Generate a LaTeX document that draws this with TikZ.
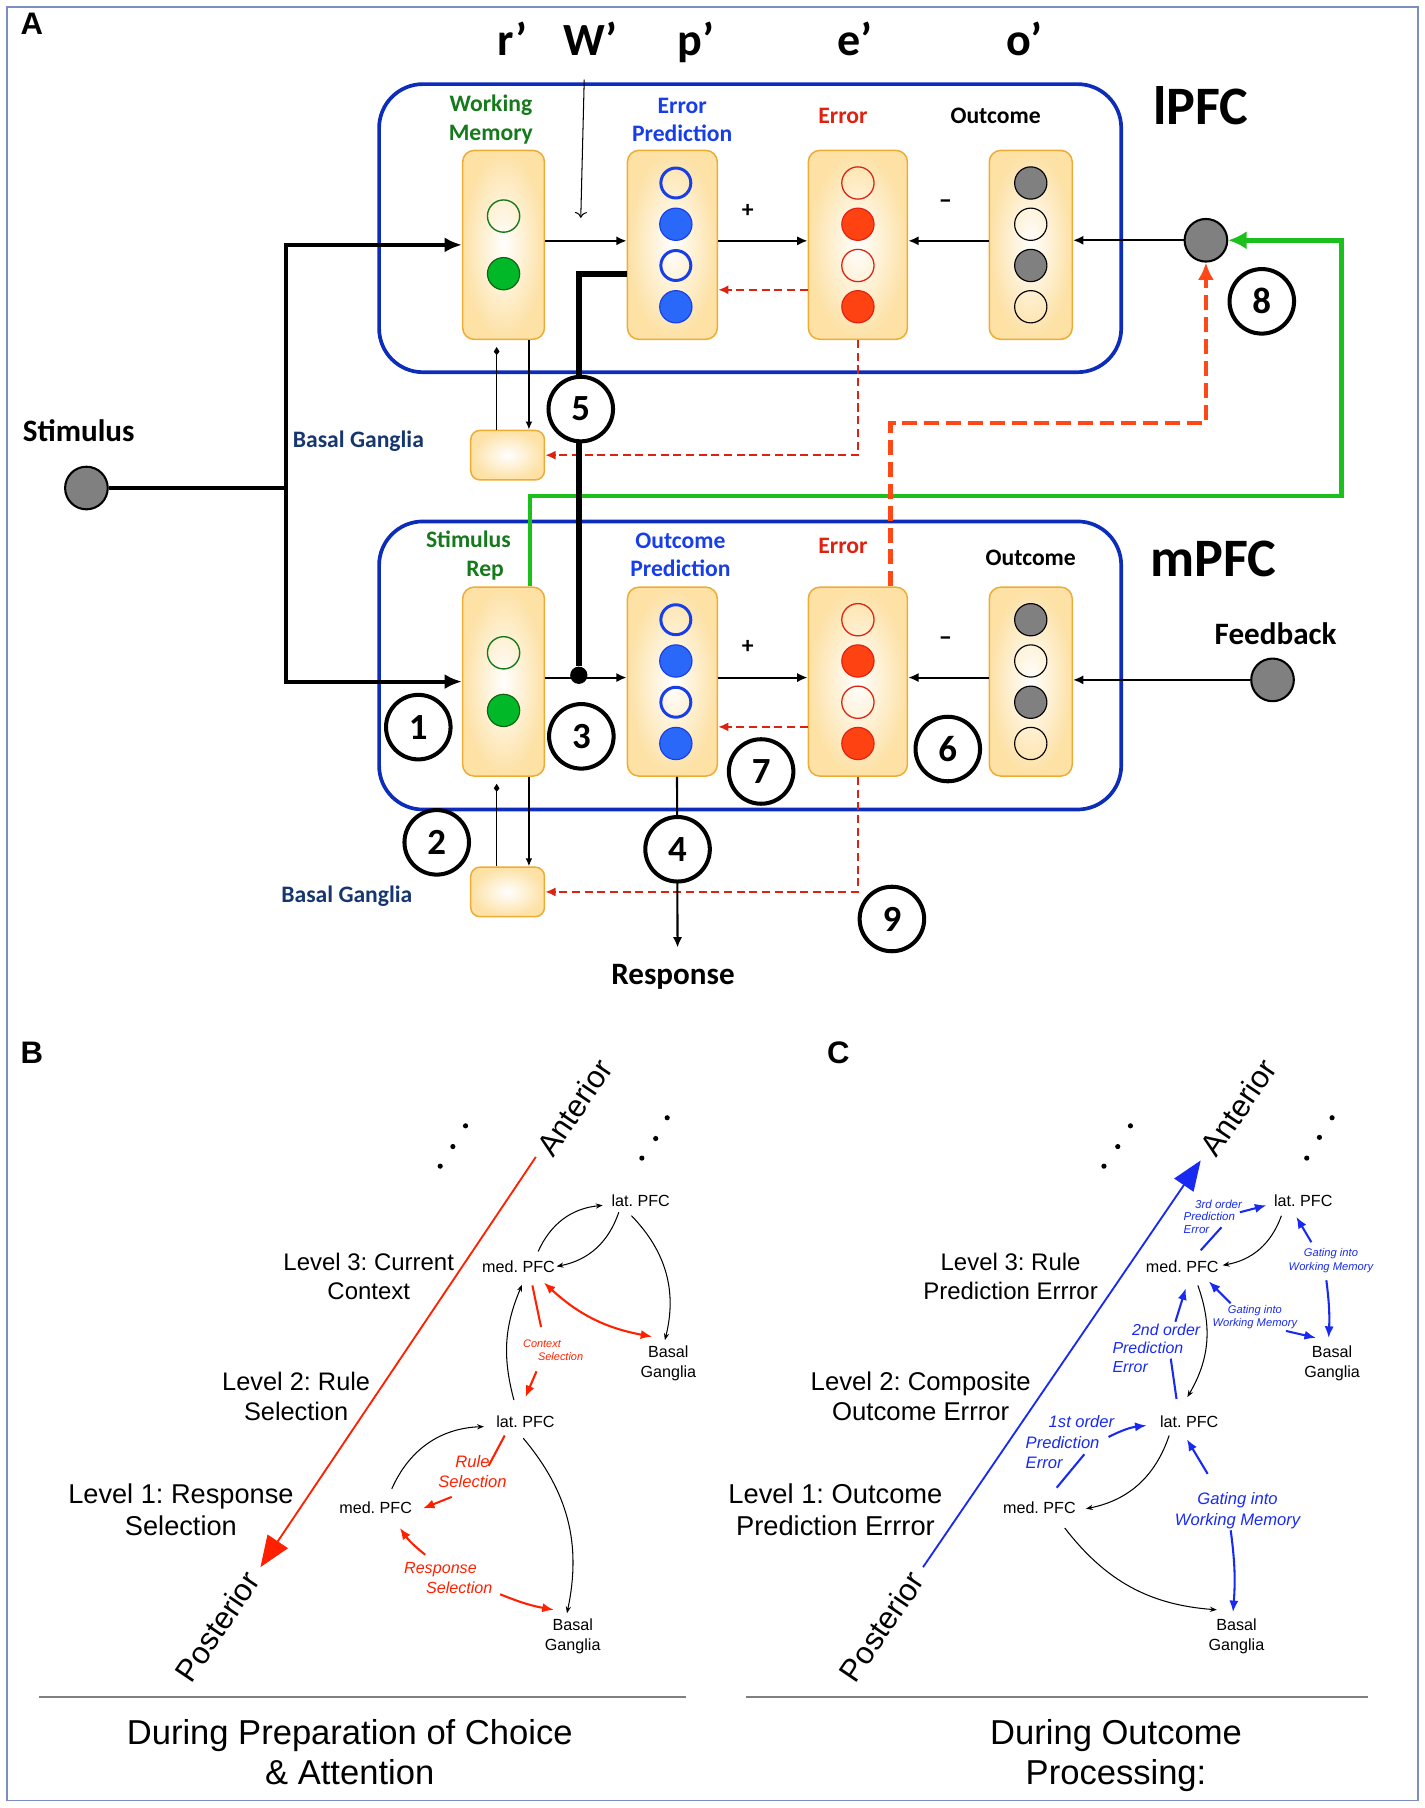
\documentclass[tikz,border=0pt]{standalone}
\usepackage{fontspec}
\setmainfont{Liberation Sans}
\newfontfamily\calfont{Carlito}
\usepackage{tikz}
\usetikzlibrary{calc}
\usetikzlibrary{arrows.meta}
\frenchspacing

\definecolor{regionblue}{RGB}{12,44,186}
\definecolor{unitline}{RGB}{238,172,52}
\definecolor{unitfill}{RGB}{253,225,165}
\definecolor{wmgreen}{RGB}{22,122,28}
\definecolor{predblue}{RGB}{24,62,232}
\definecolor{errred}{RGB}{222,34,18}
\definecolor{bgblue}{RGB}{22,54,112}
\definecolor{cellgreen}{RGB}{0,184,40}
\definecolor{cellblue}{RGB}{42,104,250}
\definecolor{cellred}{RGB}{255,66,18}
\definecolor{cellgrey}{RGB}{128,128,128}
\definecolor{gatewire}{RGB}{28,192,28}
\definecolor{errwire}{RGB}{255,72,22}
\definecolor{antred}{RGB}{255,32,0}
\definecolor{antblue}{RGB}{24,42,242}
\definecolor{framegrey}{RGB}{122,142,192}
\definecolor{rulegrey}{RGB}{128,128,128}

\tikzset{
	region/.style={draw=regionblue, line width=3.2pt, rounded corners=38pt, minimum width=644pt, minimum height=250pt, inner sep=0pt},
	unit/.style={draw=unitline, line width=1.3pt, rounded corners=10pt, shade, shading=radial, inner color=white, outer color=unitfill, minimum height=164pt, inner sep=0pt},
	bgunit/.style={unit, minimum width=64pt, minimum height=43pt, rounded corners=8pt},
	cell/.style={circle, inner sep=0pt, minimum size=28pt, line width=1pt},
	gopen/.style={cell, draw=wmgreen, line width=1.2pt},
	gfull/.style={cell, draw=wmgreen!80!black, fill=cellgreen},
	bopen/.style={cell, draw=predblue, line width=2.6pt, minimum size=26pt},
	bfull/.style={cell, draw=predblue, fill=cellblue},
	ropen/.style={cell, draw=errred, line width=1.1pt},
	rfull/.style={cell, draw=errred, fill=cellred},
	kopen/.style={cell, draw=black},
	kfull/.style={cell, draw=black, fill=cellgrey},
	source/.style={circle, draw, line width=1.8pt, fill=cellgrey, minimum size=37pt, inner sep=0pt},
	stepnum/.style={circle, draw, line width=3.5pt, fill=white, minimum size=56pt, inner sep=0pt, font=\calfont\bfseries\fontsize{32}{32}\selectfont},
	tag/.style={font=\calfont\bfseries\fontsize{20.5}{25}\selectfont, align=center, inner sep=0pt},
	sign/.style={font=\calfont\bfseries\fontsize{23}{23}\selectfont, inner sep=0pt},
	bigtag/.style={font=\calfont\bfseries\fontsize{27}{27}\selectfont, inner sep=0pt},
	prime/.style={font=\calfont\bfseries\fontsize{40}{40}\selectfont, anchor=base, inner sep=0pt},
	area/.style={font=\calfont\bfseries\fontsize{47}{47}\selectfont, inner sep=0pt},
	panel/.style={font=\bfseries\fontsize{27}{27}\selectfont, inner sep=0pt},
	feed/.style={line width=3.5pt, -{Latex[length=15pt,width=13pt]}},
	link/.style={line width=1.8pt, -{Latex[length=9pt,width=8pt]}},
	bglink/.style={line width=1.4pt, -{Latex[length=7pt,width=6pt]}},
	bgback/.style={line width=1.4pt, -{Kite[length=7pt,width=5pt,inset=3pt]}, shorten >=6pt},
	errlink/.style={draw=errred, line width=2pt, dash pattern=on 7pt off 4pt, -{Latex[length=9pt,width=8pt]}},
	errdash/.style={draw=errwire, line width=4pt, dash pattern=on 13pt off 6pt, -{Latex[length=15pt,width=14pt]}},
	gate/.style={draw=gatewire, line width=4pt, -{Latex[length=16pt,width=16pt]}},
	pfc/.style={font=\fontsize{14}{17.5}\selectfont, align=center, inner sep=1pt},
	axisname/.style={font=\fontsize{27}{27}\selectfont, rotate=56, inner sep=0pt},
	wire/.style={line width=0.9pt, -{Stealth[length=6pt,width=4.5pt]}},
	redwire/.style={draw=antred, line width=1.8pt, -{Latex[length=10pt,width=8pt]}},
	bluewire/.style={draw=antblue, line width=1.8pt, -{Latex[length=10pt,width=8pt]}},
	redtext/.style={text=antred, font=\itshape\fontsize{14.4}{17.5}\selectfont, align=center, inner sep=0pt},
	bluetext/.style={text=antblue, font=\itshape\fontsize{14.4}{17.5}\selectfont, align=center, inner sep=0pt},
	dotmark/.style={circle, fill, inner sep=0pt, minimum size=4.5pt},
	title/.style={font=\fontsize{30}{35.5}\selectfont, align=center, inner sep=0pt},
}

\begin{document}
\begin{tikzpicture}[x=1pt, y=-1pt]
	\useasboundingbox (0,0) rectangle (1236,1569);
	\draw[framegrey, line width=1.5pt] (6,6) rectangle (1230.5,1562.5);
	\coordinate (yu) at (0,209);
	\coordinate (yl) at (0,588);

	\node[panel] (pA) at (27.6,21) {A};
	\node[prime] (rp) at (445,48) {r’};
	\node[prime] (wp) at (512,48) {W’};
	\node[prime] (pp) at (604,48) {p’};
	\node[prime] (ep) at (742,48) {e’};
	\node[prime] (op) at (889,48) {o’};

	\node[region] (lpfc) at (651,198) {};
	\node[region] (mpfc) at (651,577.5) {};
	\node[area] (lab) at (1042,91.5) {lPFC};
	\node[area] (mab) at (1053,485) {mPFC};

	\node[unit, minimum width=71pt] (wm) at (437,212.5) {};
	\node[unit, minimum width=78pt] (pu) at (583.5,212.5) {};
	\node[unit, minimum width=86pt] (eu) at (744.5,212.5) {};
	\node[unit, minimum width=72pt] (ou) at (894.5,212.5) {};
	\node[unit, minimum width=71pt] (sr) at (437,591.5) {};
	\node[unit, minimum width=78pt] (pl) at (583.5,591.5) {};
	\node[unit, minimum width=86pt] (el) at (744.5,591.5) {};
	\node[unit, minimum width=72pt] (ol) at (894.5,591.5) {};
	\node[bgunit] (bgu) at (440.5,395) {};
	\node[bgunit] (bgl) at (440.5,774) {};

	\node[gopen] (wm1) at ($(wm)+(0,-25)$) {};
	\node[gfull] (wm2) at ($(wm)+(0,25)$) {};
	\node[gopen] (sr1) at ($(sr)+(0,-25)$) {};
	\node[gfull] (sr2) at ($(sr)+(0,25)$) {};
	\foreach \r in {u,l}{
		\foreach \k/\dy/\ps/\es/\os in {1/-53.7/bopen/ropen/kfull,2/-17.9/bfull/rfull/kopen,3/17.9/bopen/ropen/kfull,4/53.7/bfull/rfull/kopen}{
			\node[\ps] (p\r\k) at ($(p\r)+(3,\dy)$) {};
			\node[\es] (e\r\k) at ($(e\r)+(0,\dy)$) {};
			\node[\os] (o\r\k) at ($(o\r)+(0,\dy)$) {};
		}
	}

	\node[tag, text=wmgreen] (wml) at (426,104) {Working\\Memory};
	\node[tag, text=predblue] (pul) at (592,104) {Error\\Prediction};
	\node[tag, text=errred] (eul) at (731.5,100.5) {Error};
	\node[tag] (oul) at (864,100.5) {Outcome};
	\node[tag, text=wmgreen, align=left] (srl) at (406.5,482) {Stimulus\\\hspace*{35pt}Rep};
	\node[tag, text=predblue] (pll) at (590.5,481.5) {Outcome\\Prediction};
	\node[tag, text=errred] (ell) at (731.5,474) {Error};
	\node[tag] (oll) at (894.5,484) {Outcome};
	\node[tag, text=bgblue] (bgul) at (311,383) {Basal Ganglia};
	\node[tag, text=bgblue] (bgll) at (301,778) {Basal Ganglia};
	\node[tag] (plu) at (649,183) {+};
	\node[sign] (mnu) at (820.5,177) {–};
	\node[tag] (pll2) at (649,561.5) {+};
	\node[sign] (mnl) at (820.5,556) {–};
	\node[bigtag] (stl) at (68.3,374) {Stimulus};
	\node[bigtag] (fbl) at (1107,550) {Feedback};
	\node[bigtag, anchor=base] (resp) at (584,854) {Response};

	\node[source] (stim) at (75,423.5) {};
	\node[source] (fu) at (1046.5,208.5) {};
	\node[source] (fl) at (1104.3,590) {};

	\coordinate (split) at (248.5,423.5);
	\draw[line width=3.5pt] (stim.east) -- (split);
	\draw[feed] (split) |- (wm.west);
	\draw[feed] (split) |- (sr.west);
	\draw[link] (wm.east |- yu) -- (pu.west |- yu);
	\draw[link] (pu.east |- yu) -- (eu.west |- yu);
	\draw[link] (ou.west |- yu) -- (eu.east |- yu);
	\draw[link] (fu.west) -- (fu.west -| ou.east);
	\draw[link] (sr.east |- yl) -- (pl.west |- yl);
	\draw[link] (pl.east |- yl) -- (el.west |- yl);
	\draw[link] (ol.west |- yl) -- (el.east |- yl);
	\draw[link] (fl.west) -- (fl.west -| ol.east);
	\coordinate (wtop) at (507,69);
	\coordinate (wtip) at (504,189);
	\draw[line width=0.9pt, -{To[length=5pt]}] (wtop) -- (wtip);

	\draw[errlink] ([yshift=-39pt]eu.west) -- ([yshift=-39pt]pu.east);
	\draw[errlink] ([yshift=-39.3pt]el.west) -- ([yshift=-39.3pt]pl.east);
	\draw[errlink] (eu.south) |- (bgu.east);
	\draw[errlink] (el.south) |- (bgl.east);
	\draw[bgback] ([xshift=-9.5pt]bgu.north) -- ([xshift=-6pt]wm.south);
	\draw[bglink] ([xshift=22pt]wm.south) -- ([xshift=18.5pt]bgu.north);
	\draw[bgback] ([xshift=-9.5pt]bgl.north) -- ([xshift=-6pt]sr.south);
	\draw[bglink] ([xshift=22pt]sr.south) -- ([xshift=18.5pt]bgl.north);

	\coordinate (gturn) at (1164,430.5);
	\draw[gate] ([xshift=23pt]sr.north) |- (gturn) |- (fu.east);
	\coordinate (rturn) at ($(fu)+(0,158.5)$);
	\draw[errdash] ([xshift=28.5pt]el.north) |- (rturn) -- (fu.south);

	\node[circle, fill, inner sep=0pt, minimum size=15pt] (dot) at (502.3,586) {};
	\draw[line width=5.5pt] ([yshift=-25.3pt]pu.west) -| (dot);
	\draw[link] ([xshift=4pt]pl.south) -- ([xshift=4pt,yshift=14pt]resp.north);

	\node[stepnum] (n1) at (363,631) {1};
	\node[stepnum] (n2) at (379,731) {2};
	\node[stepnum] (n3) at (504.5,639) {3};
	\node[stepnum] (n4) at (588,737) {4};
	\node[stepnum] (n5) at (504,355) {5};
	\node[stepnum] (n6) at (822.5,650) {6};
	\node[stepnum] (n7) at (660.5,669.5) {7};
	\node[stepnum] (n8) at (1095,261.5) {8};
	\node[stepnum] (n9) at (774,797.5) {9};

	\node[panel] (pB) at (27.6,913.5) {B};
	\node[panel] (pC) at (727.5,913.5) {C};

	\coordinate (antB) at (465,1004);
	\coordinate (postB) at (226,1360);
	\draw[antred, line width=1.6pt, -{Triangle[length=27pt,width=21pt]}] (antB) -- (postB);
	\coordinate (postC) at (801,1360);
	\coordinate (antC) at (1042,1007);
	\draw[antblue, line width=1.6pt, -{Triangle[length=26pt,width=20pt]}] (postC) -- (antC);
	\node[axisname] (antBl) at (498.5,961) {Anterior};
	\node[axisname] (postBl) at (188.5,1411.5) {Posterior};
	\node[axisname] (antCl) at (1074.5,961) {Anterior};
	\node[axisname] (postCl) at (765,1411.5) {Posterior};
	\foreach \i/\x/\y in {1/382/1012,2/393/995,3/404/977,4/557/1005,5/569/988,6/579/970,7/958/1012,8/970/995,9/981/977,10/1134/1005,11/1145/987,12/1156/970}
		\node[dotmark] (d\i) at (\x,\y) {};

	\node[font=\fontsize{20.8}{25}\selectfont, align=center] (lv3B) at (320,1107.5) {Level 3: Current\\Context};
	\node[font=\fontsize{22}{26}\selectfont, align=center] (lv2B) at (257,1211.5) {Level 2: Rule\\Selection};
	\node[font=\fontsize{23.6}{28}\selectfont, align=center] (lv1B) at (157,1310) {Level 1: Response\\Selection};
	\node[font=\fontsize{20.8}{25}\selectfont, align=center] (lv3C) at (877,1107.5) {Level 3: Rule\\Prediction Errror};
	\node[font=\fontsize{22.3}{26}\selectfont, align=center] (lv2C) at (799,1211.5) {Level 2: Composite\\Outcome Errror};
	\node[font=\fontsize{23.7}{28}\selectfont, align=center] (lv1C) at (725,1310) {Level 1: Outcome\\Prediction Errror};

	\node[pfc] (latB1) at (556,1042) {lat. PFC};
	\node[pfc] (medB1) at (450,1099) {med. PFC};
	\node[pfc] (bgB1) at (580,1183) {Basal\\Ganglia};
	\node[pfc] (latB2) at (456,1234) {lat. PFC};
	\node[pfc] (medB2) at (326,1308) {med. PFC};
	\node[pfc] (bgB2) at (497,1420) {Basal\\Ganglia};
	\draw[wire] ($(medB1)+(17,-13)$) to[bend left=30] ($(latB1)+(-33,4)$);
	\draw[wire] ($(latB1)+(-19,10)$) to[bend left=30] ($(medB1)+(33,0)$);
	\draw[wire] ($(latB1)+(-8,13)$) to[bend left=29] ($(bgB1)+(-3,-20)$);
	\draw[wire] ($(latB2)+(-10,-19)$) to[bend left=19] ($(medB1)+(3,16)$);
	\draw[wire] ($(medB2)+(14,-16)$) to[bend left=32] ($(latB2)+(-36,4)$);
	\draw[wire] ($(latB2)+(-2,14)$) to[bend left=26] ($(bgB2)+(-5,-20)$);

	\node[redtext, font=\itshape\fontsize{9.5}{11}\selectfont, align=left] (ctxB) at (480,1172) {Context\\\hspace*{13pt}Selection};
	\node[redtext] (ruleB) at (410,1277) {Rule\\Selection};
	\node[redtext, font=\itshape\fontsize{14}{17}\selectfont, align=left] (respB) at (389,1369.5) {Response\\\hspace*{19pt}Selection};
	\draw[redwire, {Latex[length=10pt,width=8pt]}-{Latex[length=10pt,width=8pt]}] ($(medB1)+(22,14)$) to[bend right=16] ($(bgB1)+(-14,-23)$);
	\draw[redwire, -] ($(medB1)+(12,16.5)$) -- ($(ctxB)+(-10.5,-20.5)$);
	\draw[redwire] ($(ctxB)+(-14.4,18)$) -- ($(latB2)+(0,-21.6)$);
	\draw[redwire, -] ($(latB2)+(-18,11.7)$) -- ($(ruleB)+(14,-5)$);
	\draw[redwire] ($(ruleB)+(-18,22)$) -- ($(medB2)+(41,1)$);
	\draw[redwire] ($(respB)+(-20,-20.3)$) to[bend left=8] ($(medB2)+(21,18)$);
	\draw[redwire] ($(respB)+(45,14)$) to[bend right=6] ($(bgB2)+(-16.4,-23)$);

	\node[pfc] (latC1) at (1131,1042) {lat. PFC};
	\node[pfc] (medC1) at (1026,1099) {med. PFC};
	\node[pfc] (bgC1) at (1156,1183) {Basal\\Ganglia};
	\node[pfc] (latC2) at (1032,1234) {lat. PFC};
	\node[pfc] (medC2) at (902,1308) {med. PFC};
	\node[pfc] (bgC2) at (1073,1420) {Basal\\Ganglia};
	\draw[wire] ($(latC1)+(-19,13)$) to[bend left=30] ($(medC1)+(35,-1)$);
	\draw[wire] ($(medC1)+(13.5,16.5)$) to[bend left=25] ($(latC2)+(-1.6,-21.6)$);
	\draw[wire] ($(latC2)+(-17.4,11.7)$) to[bend left=30] ($(medC2)+(40.4,1.3)$);
	\draw[wire] ($(medC2)+(22,18)$) to[bend right=24] ($(bgC2)+(-17,-23)$);

	\node[bluetext, font=\itshape\fontsize{10}{11}\selectfont, align=left] (o3) at (1052.5,1056) {\hspace*{10pt}3rd order\\Prediction\\Error};
	\node[bluetext, font=\itshape\fontsize{9.7}{12}\selectfont] (g1) at (1155,1094) {Gating into\\Working Memory};
	\node[bluetext, font=\itshape\fontsize{9.7}{11.5}\selectfont] (g2) at (1089,1143) {Gating into\\Working Memory};
	\node[bluetext, font=\itshape\fontsize{13.8}{16}\selectfont, align=left] (o2) at (1003.5,1170) {\hspace*{17pt}2nd order\\Prediction\\Error};
	\node[bluetext, align=left] (o1) at (928.5,1251.5) {\hspace*{20pt}1st order\\Prediction\\Error};
	\node[bluetext, font=\itshape\fontsize{14.4}{17.6}\selectfont] (g3) at (1074,1311) {Gating into\\Working Memory};
	\draw[bluewire, -] ($(medC1)+(16,-14)$) -- ($(o3)+(7.5,9)$);
	\draw[bluewire] ($(o3)+(23.5,-4)$) -- ($(latC1)+(-32,4)$);
	\draw[bluewire] ($(g1)+(-17,-16)$) -- ($(latC1)+(-6,14)$);
	\draw[bluewire] ($(g1)+(-4,17)$) to[bend left=5] ($(bgC1)+(-3,-22)$);
	\draw[bluewire] ($(g2)+(-21,-12)$) -- ($(medC1)+(23,13)$);
	\draw[bluewire] ($(g2)+(27,12)$) -- ($(bgC1)+(-14,-22)$);
	\draw[bluewire] ($(o2)+(16.5,-23)$) -- ($(medC1)+(3,19)$);
	\draw[bluewire, -] ($(o2)+(12.5,9)$) -- ($(latC2)+(-11,-20)$);
	\draw[bluewire] ($(o1)+(33.5,-4.5)$) to[bend left=10] ($(latC2)+(-37,3)$);
	\draw[bluewire, -] ($(o1)+(12.5,10.5)$) -- ($(medC2)+(15,-17)$);
	\draw[bluewire] ($(g3)+(-26,-32)$) -- ($(latC2)+(-2,15)$);
	\draw[bluewire] ($(g3)+(-6,17)$) to[bend left=6] ($(bgC2)+(-3,-21)$);

	\coordinate (sepB1) at (33.5,1473);
	\coordinate (sepB2) at (595.5,1473);
	\coordinate (sepC1) at (647,1473);
	\coordinate (sepC2) at (1187,1473);
	\draw[rulegrey, line width=1.8pt] (sepB1) -- (sepB2);
	\draw[rulegrey, line width=1.8pt] (sepC1) -- (sepC2);
	\node[title] (tB) at (303.5,1520.5) {During Preparation of Choice\\\& Attention};
	\node[title] (tC) at (968.5,1523.5) {During Outcome\\Processing:};
\end{tikzpicture}
\end{document}
